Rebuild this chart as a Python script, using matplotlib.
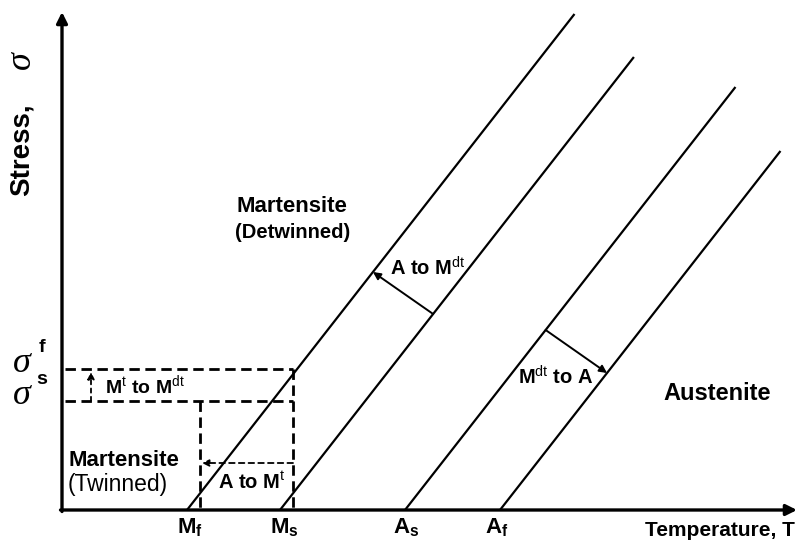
import matplotlib
matplotlib.use('Agg')
import matplotlib.pyplot as plt

plt.rcParams['font.family'] = ['Liberation Sans', 'DejaVu Sans']
plt.rcParams['mathtext.fontset'] = 'custom'
plt.rcParams['mathtext.rm'] = 'Liberation Sans'
plt.rcParams['mathtext.bf'] = 'Liberation Sans:bold'
plt.rcParams['lines.scale_dashes'] = False

# transformation temperatures at zero stress (arbitrary units)
temp_names = ['M$_\\mathbf{f}$', 'M$_\\mathbf{s}$', 'A$_\\mathbf{s}$', 'A$_\\mathbf{f}$']
temp_zero = [25.0, 43.6, 68.6, 87.6]
temp_label_pos = [25.6, 44.4, 68.8, 87.0]
line_top_stress = [99.2, 90.6, 84.6, 71.8]
slope = 1.28  # d(sigma)/dT, same for all four boundaries

sigma_s = 21.8
sigma_f = 28.2
dash_temps = [27.6, 46.2]      # dashed verticals (left from sigma_s, right from sigma_f)
stress_a_to_mt = 9.4
temp_mt_to_mdt = 5.8

# arrows between boundaries: (start line, start stress, end line, end stress)
arrow_a_to_mdt = (1, 39.2, 0, 47.6)
arrow_mdt_to_a = (2, 36.0, 3, 27.4)

T_MAX, S_MAX = 147.0, 99.6


def temp_on_line(i, stress):
    return temp_zero[i] + stress / slope


fig = plt.figure(figsize=(8, 5.48), dpi=100)
ax = fig.add_axes([62 / 800, 38 / 548, 735 / 800, 498 / 548])
ax.set_xlim(0, T_MAX)
ax.set_ylim(0, S_MAX)
ax.axis('off')

# axes with arrow heads
ax.annotate('', xy=(T_MAX, 0), xytext=(-0.3, 0),
            arrowprops=dict(arrowstyle='-|>', lw=2.4, color='black',
                            mutation_scale=16, shrinkA=0, shrinkB=0))
ax.annotate('', xy=(0, S_MAX), xytext=(0, -0.3),
            arrowprops=dict(arrowstyle='-|>', lw=2.4, color='black',
                            mutation_scale=16, shrinkA=0, shrinkB=0))

# phase boundary lines
for i in range(4):
    ax.plot([temp_zero[i], temp_on_line(i, line_top_stress[i])],
            [0, line_top_stress[i]], color='black', lw=1.6,
            solid_capstyle='butt')

# dashed critical stress box
dash = dict(color='black', lw=2.0, dashes=(7.5, 4))
ax.plot([0.5, dash_temps[1]], [sigma_f, sigma_f], **dash)
ax.plot([0.5, dash_temps[1]], [sigma_s, sigma_s], **dash)
ax.plot([dash_temps[1], dash_temps[1]], [sigma_f, 0], **dash)
ax.plot([dash_temps[0], dash_temps[0]], [sigma_s, 0], **dash)

# A to M^t (dashed, pointing left)
ax.annotate('', xy=(dash_temps[0] + 0.4, stress_a_to_mt),
            xytext=(dash_temps[1], stress_a_to_mt),
            arrowprops=dict(arrowstyle='-|>', lw=1.3, color='black',
                            linestyle=(0, (4, 3)), mutation_scale=10,
                            shrinkA=0, shrinkB=0))
# M^t to M^dt (dashed, pointing up)
ax.annotate('', xy=(temp_mt_to_mdt, sigma_f - 0.6),
            xytext=(temp_mt_to_mdt, sigma_s),
            arrowprops=dict(arrowstyle='-|>', lw=1.3, color='black',
                            linestyle=(0, (3, 3)), mutation_scale=10,
                            shrinkA=0, shrinkB=0))

# solid transformation arrows
for (i0, s0, i1, s1) in (arrow_a_to_mdt, arrow_mdt_to_a):
    ax.annotate('', xy=(temp_on_line(i1, s1), s1),
                xytext=(temp_on_line(i0, s0), s0),
                arrowprops=dict(arrowstyle='-|>', lw=1.4, color='black',
                                mutation_scale=11, shrinkA=0, shrinkB=0))

# temperature labels
for name, t in zip(temp_names, temp_label_pos):
    ax.text(t, -3.6, name, ha='center', va='center', fontsize=16,
            fontweight='bold', clip_on=False)

ax.text(146.6, -4.0, 'Temperature, T', ha='right', va='center',
        fontsize=15, fontweight='bold', clip_on=False)
ax.text(-8.0, 72.0, 'Stress,', ha='center', va='center', rotation=90,
        fontsize=20, fontweight='bold', clip_on=False)
ax.text(-8.2, 90.0, 'σ', ha='center', va='center', rotation=90,
        fontsize=26, family='Liberation Serif', style='italic', clip_on=False)

# critical stress labels
for s, sup in ((sigma_f, 'f'), (sigma_s, 's')):
    ax.text(-8.0, s + 1.0, 'σ', ha='center', va='center', fontsize=26,
            family='Liberation Serif', style='italic', clip_on=False)
    ax.text(-4.0, s + 4.4, sup, ha='center', va='center', fontsize=14,
            fontweight='bold', clip_on=False)

# region labels
ax.text(46.0, 60.8, 'Martensite', ha='center', va='center', fontsize=16,
        fontweight='bold')
ax.text(46.2, 55.6, '(Detwinned)', ha='center', va='center', fontsize=14.5,
        fontweight='bold')
ax.text(131.0, 23.4, 'Austenite', ha='center', va='center', fontsize=17,
        fontweight='bold')
ax.text(1.2, 10.0, 'Martensite', ha='left', va='center', fontsize=16,
        fontweight='bold')
ax.text(1.2, 5.2, '(Twinned)', ha='left', va='center', fontsize=16.5)

# arrow labels
ax.text(38.0, 5.6, 'A to M$^{\\mathrm{t}}$', ha='center', va='center',
        fontsize=14.5, fontweight='bold')
ax.text(8.6, 24.8, 'M$^{\\mathrm{t}}$ to M$^{\\mathrm{dt}}$', ha='left',
        va='center', fontsize=14, fontweight='bold')
ax.text(65.6, 48.4, 'A to M$^{\\mathrm{dt}}$', ha='left', va='center',
        fontsize=14.5, fontweight='bold')
ax.text(106.2, 26.6, 'M$^{\\mathrm{dt}}$ to A', ha='right', va='center',
        fontsize=14.5, fontweight='bold')

fig.savefig('out.png', dpi=100)
